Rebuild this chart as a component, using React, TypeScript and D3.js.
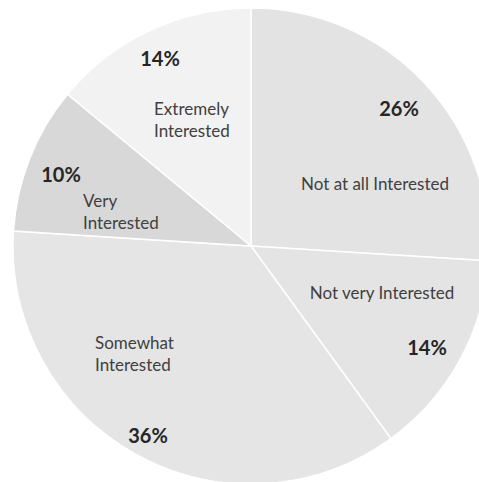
import React from "react";
import * as d3 from "d3";

const categories = [
  "Not at all Interested",
  "Not very Interested",
  "Somewhat Interested",
  "Very Interested",
  "Extremely Interested",
];
const values = [26, 14, 36, 10, 14];
const percentLabels = ["26%", "14%", "36%", "10%", "14%"];
const nameLines = [
  ["Not at all Interested"],
  ["Not very Interested"],
  ["Somewhat", "Interested"],
  ["Very", "Interested"],
  ["Extremely", "Interested"],
];

const colors = ["#e3e3e3", "#e4e4e4", "#e5e5e5", "#d8d8d8", "#f2f2f2"];

// label layout (relative to pie centre)
const nameLayout = [
  { dx: 124, dy: -63, anchor: "middle" },
  { dx: 131, dy: 46, anchor: "middle" },
  { dx: -156, dy: 96, anchor: "start" },
  { dx: -168, dy: -46, anchor: "start" },
  { dx: -97, dy: -138, anchor: "start" },
];
const pctLayout = [
  { dx: 148, dy: -138 },
  { dx: 176, dy: 101 },
  { dx: -103, dy: 189 },
  { dx: -190, dy: -72 },
  { dx: -91, dy: -188 },
];

const W = 479;
const H = 482;
const CX = 251;
const CY = 246;
const R = 238;

export default function App() {
  const pie = d3
    .pie<number>()
    .sort(null)
    .value((d) => d)
    .startAngle(0)
    .endAngle(2 * Math.PI);
  const arcs = pie(values);
  const arc = d3.arc<d3.PieArcDatum<number>>().innerRadius(0).outerRadius(R);
  const font = "Lato, 'Open Sans', sans-serif";

  return (
    <svg
      width={W}
      height={H}
      style={{ position: "absolute", left: 0, top: 0, background: "#fff" }}
    >
      <g transform={`translate(${CX},${CY})`}>
        {arcs.map((a, i) => (
          <path
            key={categories[i]}
            d={arc(a) || ""}
            fill={colors[i]}
            stroke="#ffffff"
            strokeWidth={1.5}
          />
        ))}
        {arcs.map((a, i) => (
          <text
            key={"n" + i}
            x={nameLayout[i].dx}
            y={nameLayout[i].dy}
            textAnchor={nameLayout[i].anchor}
            dominantBaseline="central"
            fontFamily={font}
            fontSize={17}
            fill="#404040"
          >
            {nameLines[i].map((l, j) => (
              <tspan key={j} x={nameLayout[i].dx} dy={j === 0 ? 0 : 22}>
                {l}
              </tspan>
            ))}
          </text>
        ))}
        {arcs.map((a, i) => (
          <text
            key={"p" + i}
            x={pctLayout[i].dx}
            y={pctLayout[i].dy}
            textAnchor="middle"
            dominantBaseline="central"
            fontFamily={font}
            fontSize={20}
            fontWeight="bold"
            fill="#262626"
          >
            {percentLabels[i]}
          </text>
        ))}
      </g>
    </svg>
  );
}
